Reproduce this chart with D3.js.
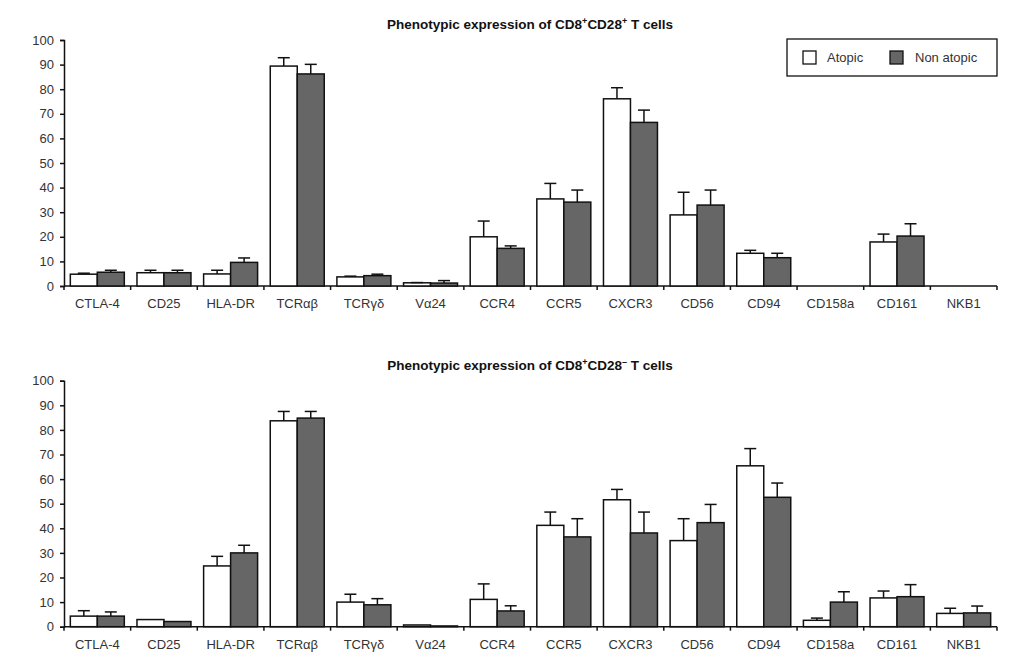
<!DOCTYPE html>
<html>
<head>
<meta charset="utf-8">
<script src="https://cdn.jsdelivr.net/npm/d3@7"></script>
<style>
  body { margin: 0; background: #fff; }
  svg { font-family: "Liberation Sans", Arial, sans-serif; }
  .tick text { fill: #333; font-size: 13px; }
</style>
</head>
<body>
<svg id="chart" width="1024" height="661"></svg>
<script>
// markers on the x axis
var markers = ["CTLA-4", "CD25", "HLA-DR", "TCR\u03b1\u03b2", "TCR\u03b3\u03b4", "V\u03b124",
               "CCR4", "CCR5", "CXCR3", "CD56", "CD94", "CD158a", "CD161", "NKB1"];
var yTicks = [0, 10, 20, 30, 40, 50, 60, 70, 80, 90, 100];
var seriesNames = ["Atopic", "Non atopic"];

// CD8+CD28+ (null = not measured)
var posAtopic     = [4.8, 5.4, 4.9, 89.4, 3.7, 1.3, 20.0, 35.4, 76.1, 28.9, 13.3, null, 17.9, null];
var posAtopicErr  = [0.4, 1.0, 1.5, 3.4, 0.3, 0.1, 6.4, 6.3, 4.5, 9.2, 1.2, null, 3.2, null];
var posNonAtopic    = [5.6, 5.4, 9.6, 86.2, 4.2, 1.2, 15.3, 34.1, 66.5, 32.9, 11.5, null, 20.3, null];
var posNonAtopicErr = [0.8, 1.0, 1.8, 3.9, 0.6, 1.0, 1.0, 4.9, 5.0, 6.1, 1.8, null, 5.0, null];

// CD8+CD28-
var negAtopic     = [4.3, 2.9, 24.7, 83.7, 10.0, 0.7, 11.1, 41.2, 51.6, 35.0, 65.4, 2.6, 11.7, 5.4];
var negAtopicErr  = [2.2, 0, 3.9, 3.8, 3.2, 0, 6.3, 5.4, 4.2, 8.9, 7.0, 0.9, 2.8, 2.1];
var negNonAtopic    = [4.3, 2.1, 30.0, 84.8, 8.9, 0.3, 6.4, 36.5, 38.1, 42.3, 52.6, 10.0, 12.2, 5.6];
var negNonAtopicErr = [1.7, 0, 3.1, 2.7, 2.5, 0, 2.1, 7.4, 8.5, 7.4, 5.8, 4.2, 4.9, 2.8];

var svg = d3.select("#chart");
var colors = ["#ffffff", "#666666"];

function panel(top, bottom, title, sign, vals, errs) {
    var x = d3.scaleBand().domain(markers).range([64, 997]).paddingInner(0.19).paddingOuter(0.095);
    var x1 = d3.scaleBand().domain([0, 1]).range([0, x.bandwidth()]);
    var y = d3.scaleLinear().domain([0, 100]).range([bottom, top]);
    var g = svg.append("g");

    // title with superscripts
    var t = g.append("text")
        .attr("x", 530).attr("y", top - 11)
        .attr("text-anchor", "middle")
        .style("font-weight", "bold").style("font-size", "13.5px").attr("fill", "#111");
    t.append("tspan").text("Phenotypic expression of CD8");
    t.append("tspan").attr("dy", -5).style("font-size", "9px").text("+");
    t.append("tspan").attr("dy", 5).text("CD28");
    t.append("tspan").attr("dy", -5).style("font-size", "9px").text(sign);
    t.append("tspan").attr("dy", 5).text(" T cells");

    // y axis
    g.append("g")
        .attr("transform", "translate(64,0)")
        .call(d3.axisLeft(y).tickValues(yTicks).tickSize(4).tickPadding(6))
        .call(function (a) {
            a.select(".domain").attr("stroke", "#111").attr("stroke-width", 1.5);
            a.selectAll(".tick line").attr("stroke", "#111").attr("stroke-width", 1.5);
        });

    // x axis: labels centred, ticks on the band boundaries
    g.append("g")
        .attr("transform", "translate(0," + bottom + ")")
        .call(d3.axisBottom(x).tickSize(0).tickPadding(13))
        .call(function (a) { a.select(".domain").remove(); });
    g.append("line")
        .attr("x1", 64).attr("x2", 997).attr("y1", bottom).attr("y2", bottom)
        .attr("stroke", "#111").attr("stroke-width", 1.5);
    var bounds = markers.map(function (m) { return x(m) - x.step() * x.paddingInner() / 2; });
    bounds.push(997);
    g.selectAll(".xt").data(bounds).enter().append("line")
        .attr("x1", function (d) { return d; }).attr("x2", function (d) { return d; })
        .attr("y1", bottom).attr("y2", bottom + 4)
        .attr("stroke", "#111").attr("stroke-width", 1.5);

    // bars and error bars
    [0, 1].forEach(function (s) {
        var data = markers.map(function (m, i) { return { m: m, v: vals[s][i], e: errs[s][i] }; })
            .filter(function (d) { return d.v !== null; });
        g.selectAll(".bar" + s).data(data).enter().append("rect")
            .attr("x", function (d) { return x(d.m) + x1(s); })
            .attr("y", function (d) { return y(d.v); })
            .attr("width", x1.bandwidth())
            .attr("height", function (d) { return y(0) - y(d.v); })
            .attr("fill", colors[s]).attr("stroke", "#111").attr("stroke-width", 1.5);
        var eb = data.filter(function (d) { return d.e > 0; });
        var cx = function (d) { return x(d.m) + x1(s) + x1.bandwidth() / 2; };
        g.selectAll(".err" + s).data(eb).enter().append("line")
            .attr("x1", cx).attr("x2", cx)
            .attr("y1", function (d) { return y(d.v); })
            .attr("y2", function (d) { return y(d.v + d.e); })
            .attr("stroke", "#111").attr("stroke-width", 1.5);
        g.selectAll(".cap" + s).data(eb).enter().append("line")
            .attr("x1", function (d) { return cx(d) - 6; })
            .attr("x2", function (d) { return cx(d) + 6; })
            .attr("y1", function (d) { return y(d.v + d.e); })
            .attr("y2", function (d) { return y(d.v + d.e); })
            .attr("stroke", "#111").attr("stroke-width", 1.5);
    });
}

panel(40, 286, "top", "+", [posAtopic, posNonAtopic], [posAtopicErr, posNonAtopicErr]);
panel(380.7, 626.7, "bottom", "\u2013", [negAtopic, negNonAtopic], [negAtopicErr, negNonAtopicErr]);

// legend
var lg = svg.append("g");
lg.append("rect").attr("x", 787).attr("y", 39).attr("width", 210).attr("height", 37)
    .attr("fill", "#fff").attr("stroke", "#111").attr("stroke-width", 1.3);
var items = [{ x: 803, tx: 827 }, { x: 890, tx: 915 }];
items.forEach(function (it, i) {
    lg.append("rect").attr("x", it.x).attr("y", 51).attr("width", 13).attr("height", 13)
        .attr("fill", colors[i]).attr("stroke", "#111").attr("stroke-width", 1.3);
    lg.append("text").attr("x", it.tx).attr("y", 62).attr("fill", "#333")
        .style("font-size", "13px").text(seriesNames[i]);
});
</script>
</body>
</html>
